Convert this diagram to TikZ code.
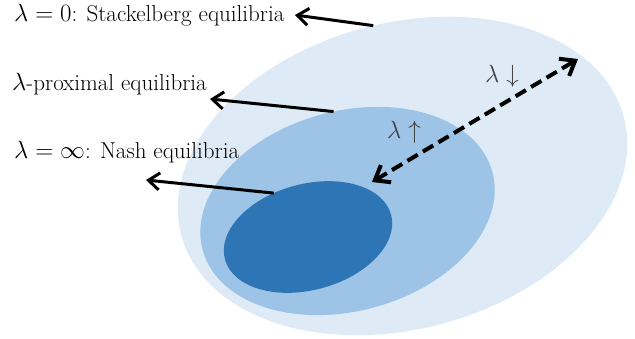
\documentclass[tikz,border=0pt]{standalone}
\usepackage{amsmath,amssymb}
\usepackage{xcolor}
\usepackage{tikz}
\usetikzlibrary{arrows.meta,shapes.geometric}
\definecolor{cOuter}{HTML}{DEEBF7}
\definecolor{cMid}{HTML}{9DC3E6}
\definecolor{cInner}{HTML}{2E75B6}
\definecolor{cLam}{HTML}{404040}
\tikzset{
  region/.style={ellipse, draw=none, inner sep=0pt, outer sep=0pt, rotate=15},
  callout/.style={-{Straight Barb[length=11pt, width=17pt]}, line width=3pt, black},
  lamarr/.style={{Straight Barb[length=13pt, width=20pt]}-{Straight Barb[length=13pt, width=20pt]},
                 line width=4pt, black, dash pattern=on 12pt off 6pt},
  lbl/.style={font=\fontsize{23}{27}\selectfont, inner sep=0pt, anchor=base west},
  lam/.style={font=\fontsize{29}{33}\selectfont, text=cLam, inner sep=0pt}
}

\begin{document}
\begin{tikzpicture}[x=1pt, y=-1pt]
\useasboundingbox (0,0) rectangle (635,338);
% nested sets of equilibria
\node[region, fill=cOuter, minimum width=458pt, minimum height=306pt] (outer) at (402.5,176) {};
\node[region, fill=cMid, minimum width=300pt, minimum height=200pt] (mid) at (347.5,211) {};
\node[region, fill=cInner, minimum width=172pt, minimum height=106pt] (inner) at (308,237) {};
% labels on the left
\node[lbl] (stack) at (14,21) {$\lambda = 0$: Stackelberg equilibria};
\node[lbl] (prox) at (12,90) {$\lambda$-proximal equilibria};
\node[lbl] (nash) at (14,158) {$\lambda = \infty$: Nash equilibria};
\coordinate (tipS) at (295,15);
\coordinate (tipP) at (210,99);
\coordinate (tipN) at (146,180);
\draw[callout] (outer.86) -- (tipS);
\draw[callout] (mid.83) -- (tipP);
\draw[callout] (inner.113) -- (tipN);
% direction of lambda
\coordinate (lo) at (372,182);
\coordinate (hi) at (578,59);
\draw[lamarr] (lo) -- (hi);
\node[lam] (up) at (404,132) {$\lambda\uparrow$};
\node[lam] (down) at (502,76) {$\lambda\downarrow$};
\end{tikzpicture}
\end{document}
